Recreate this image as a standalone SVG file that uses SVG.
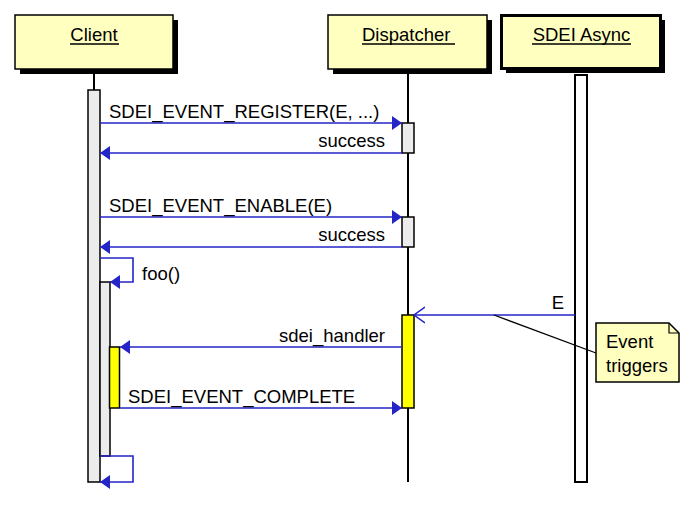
<svg xmlns="http://www.w3.org/2000/svg" width="700" height="514" viewBox="0 0 700 514">
<style>
text{font-family:"Liberation Sans",Arial,sans-serif;font-size:18.5px;fill:#000}
.box{fill:#ffffc0;stroke:#000;stroke-width:1.5}
.shadow{fill:#000}
.ul{stroke:#000;stroke-width:1.3}
.life{stroke:#000;stroke-width:2;fill:none}
.act{fill:#ececec;stroke:#000;stroke-width:1.5}
.acty{fill:#ffff00;stroke:#000;stroke-width:1.5}
.actw{fill:#fff;stroke:#000;stroke-width:2}
.msg{stroke:#2424c8;stroke-width:1.6;fill:none}
.note{fill:#ffffc0;stroke:#000;stroke-width:1.5}
</style>
<defs>
<marker id="ah" viewBox="0 0 10 14" refX="10" refY="7" markerWidth="10" markerHeight="14" markerUnits="userSpaceOnUse" orient="auto">
<path d="M0,0 L10,7 L0,14 Z" fill="#2424c8"/>
</marker>
<marker id="ao" viewBox="0 0 12 18" refX="11" refY="9" markerWidth="12" markerHeight="18" markerUnits="userSpaceOnUse" orient="auto">
<path d="M0,1 L11,9 L0,17" fill="none" stroke="#2424c8" stroke-width="1.5"/>
</marker>
</defs>

<g id="client">
<rect class="shadow" x="20" y="20" width="158" height="54"/>
<rect class="box" x="15" y="15" width="158" height="54"/>
<text x="94" y="41" text-anchor="middle">Client</text>
<line class="ul" x1="70" y1="44" x2="119" y2="44"/>
<line class="life" x1="94" y1="74" x2="94" y2="90"/>
<rect class="act" x="88" y="90" width="12" height="392"/>
<rect class="act" x="100" y="282" width="10" height="174"/>
<rect class="acty" x="109.5" y="347" width="10" height="61"/>
</g>

<g id="dispatcher">
<rect class="shadow" x="333" y="20" width="159" height="54"/>
<rect class="box" x="328" y="15" width="159" height="54"/>
<text x="362" y="41">Dispatcher</text>
<line class="ul" x1="362" y1="44" x2="455" y2="44"/>
<line class="life" x1="408" y1="74" x2="408" y2="482"/>
<rect class="act" x="402" y="123" width="12" height="30"/>
<rect class="act" x="402" y="217" width="12" height="30"/>
<rect class="acty" x="402" y="315" width="12" height="93"/>
</g>

<g id="sdei_async">
<rect class="shadow" x="506" y="20" width="159" height="53"/>
<rect class="box" x="501.5" y="15.5" width="159" height="53" style="stroke-width:3"/>
<text x="581.5" y="41" text-anchor="middle">SDEI Async</text>
<line class="ul" x1="532" y1="44" x2="631" y2="44"/>
<rect class="actw" x="575" y="75" width="12" height="407"/>
</g>

<g id="note_event_triggers">
<path class="note" d="M596,323 L669,323 L679,333 L679,382 L596,382 Z"/>
<path d="M669,323 L669,333 L679,333" fill="none" stroke="#000" stroke-width="1.2"/>
<text x="606" y="348">Event</text>
<text x="606" y="372">triggers</text>
</g>

<g id="connectors">
<line class="msg" x1="100" y1="123" x2="402" y2="123" marker-end="url(#ah)"/>
<text x="109" y="118">SDEI_EVENT_REGISTER(E, ...)</text>
<line class="msg" x1="402" y1="153" x2="100" y2="153" marker-end="url(#ah)"/>
<text x="385" y="147" text-anchor="end">success</text>
<line class="msg" x1="100" y1="217" x2="402" y2="217" marker-end="url(#ah)"/>
<text x="109" y="212">SDEI_EVENT_ENABLE(E)</text>
<line class="msg" x1="402" y1="247" x2="100" y2="247" marker-end="url(#ah)"/>
<text x="385" y="241" text-anchor="end">success</text>
<path class="msg" d="M100,258 L133,258 L133,282 L110,282" marker-end="url(#ah)"/>
<text x="142" y="280">foo()</text>
<line class="msg" x1="575" y1="315" x2="414" y2="315" marker-end="url(#ao)"/>
<text x="564" y="309" text-anchor="end">E</text>
<line class="msg" x1="402" y1="347" x2="120" y2="347" marker-end="url(#ah)"/>
<text x="385" y="342" text-anchor="end">sdei_handler</text>
<line class="msg" x1="120" y1="408" x2="402" y2="408" marker-end="url(#ah)"/>
<text x="128" y="403">SDEI_EVENT_COMPLETE</text>
<path class="msg" d="M100,456 L133,456 L133,482 L100,482" marker-end="url(#ah)"/>
<line x1="494" y1="315" x2="596" y2="353" stroke="#000" stroke-width="1.3"/>
</g>
</svg>
